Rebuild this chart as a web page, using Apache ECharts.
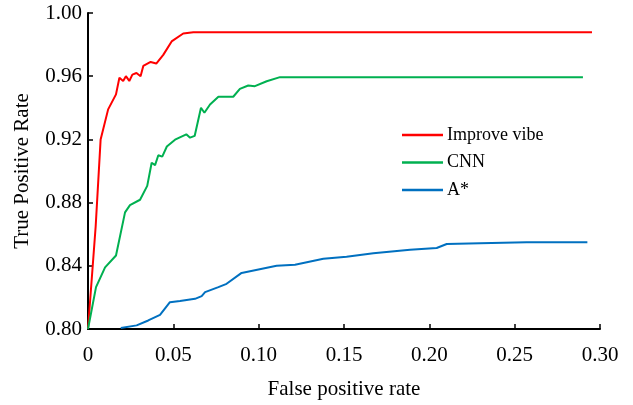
<!DOCTYPE html>
<html>
<head>
<meta charset="utf-8">
<script src="https://cdn.jsdelivr.net/npm/echarts@6/dist/echarts.min.js"></script>
<style>html,body{margin:0;padding:0;background:#fff;}#c{width:633px;height:405px;}</style>
</head>
<body>
<div id="c"></div>
<script>
const seriesNames = ['Improve vibe', 'CNN', 'A*'];
const improveVibe = [
  [0, 0.80], [0.0045, 0.865], [0.0074, 0.920], [0.0118, 0.939], [0.0164, 0.9485],
  [0.0184, 0.959], [0.0206, 0.957], [0.0222, 0.960], [0.0242, 0.957], [0.0260, 0.961],
  [0.0284, 0.962], [0.0308, 0.960], [0.0324, 0.9665], [0.0367, 0.969], [0.0400, 0.968],
  [0.0441, 0.9735], [0.0490, 0.982], [0.0558, 0.987], [0.0617, 0.9878], [0.2953, 0.9878]
];
const cnn = [
  [0, 0.80], [0.0047, 0.8265], [0.0100, 0.839], [0.0164, 0.8465], [0.0217, 0.8738],
  [0.0246, 0.8784], [0.0305, 0.8818], [0.0347, 0.8906], [0.0373, 0.9052], [0.0393, 0.9037],
  [0.0412, 0.910], [0.0435, 0.9091], [0.0462, 0.9155], [0.0510, 0.9198], [0.0576, 0.9232],
  [0.0598, 0.9211], [0.0625, 0.9222], [0.0662, 0.940], [0.0682, 0.9369], [0.0715, 0.9421],
  [0.0764, 0.947], [0.0851, 0.947], [0.0890, 0.952], [0.0939, 0.9541], [0.0978, 0.9537],
  [0.1047, 0.9568], [0.1125, 0.9594], [0.2900, 0.9594]
];
const aStar = [
  [0.0192, 0.8006], [0.0285, 0.8023], [0.0353, 0.8054], [0.0422, 0.809], [0.0480, 0.817],
  [0.0539, 0.8177], [0.0627, 0.8191], [0.0666, 0.8208], [0.0686, 0.8233], [0.0764, 0.8265],
  [0.0812, 0.8286], [0.0900, 0.8355], [0.1105, 0.8400], [0.1213, 0.8406], [0.1379, 0.8444],
  [0.1515, 0.8458], [0.1672, 0.848], [0.1887, 0.8502], [0.2043, 0.8513], [0.2102, 0.8538],
  [0.2297, 0.8543], [0.2570, 0.8549], [0.2926, 0.8549]
];
const colors = ['#ff0000', '#00b050', '#0070c0'];
const font = '"Liberation Serif", "Times New Roman", serif';

const chart = echarts.init(document.getElementById('c'), null, {renderer: 'canvas'});
const mk = (name, data, color) => ({
  name, type: 'line', data, showSymbol: false, symbol: 'none',
  lineStyle: {color, width: 2}, itemStyle: {color}, animation: false
});
chart.setOption({
  animation: false,
  backgroundColor: '#fff',
  grid: {left: 88, right: 33, top: 13, bottom: 74},
  legend: {
    orient: 'vertical', left: 397, top: 120, icon: 'rect',
    itemWidth: 41, itemHeight: 2.5, itemGap: 7.5,
    data: seriesNames,
    textStyle: {fontFamily: font, fontSize: 18, color: '#000', lineHeight: 20, padding: [0, 0, 0, -1]}
  },
  xAxis: {
    type: 'value', min: 0, max: 0.30, interval: 0.05,
    name: 'False positive rate', nameLocation: 'middle', nameGap: 50,
    nameTextStyle: {fontFamily: font, fontSize: 21, color: '#000'},
    axisLine: {show: true, lineStyle: {color: '#000', width: 2}},
    axisTick: {show: true, inside: true, length: 5, lineStyle: {color: '#000', width: 1.5}},
    axisLabel: {fontFamily: font, fontSize: 21, color: '#000', margin: 16,
      formatter: v => v === 0 ? '0' : v.toFixed(2)},
    splitLine: {show: false}
  },
  yAxis: {
    type: 'value', min: 0.80, max: 1.00, interval: 0.04,
    name: 'True Positive Rate', nameLocation: 'middle', nameGap: 55,
    nameTextStyle: {fontFamily: font, fontSize: 21, color: '#000'},
    axisLine: {show: true, lineStyle: {color: '#000', width: 2}},
    axisTick: {show: true, inside: true, length: 5, lineStyle: {color: '#000', width: 1.5}},
    axisLabel: {fontFamily: font, fontSize: 21, color: '#000', margin: 6,
      formatter: v => v.toFixed(2)},
    splitLine: {show: false}
  },
  series: [
    mk(seriesNames[0], improveVibe, colors[0]),
    mk(seriesNames[1], cnn, colors[1]),
    mk(seriesNames[2], aStar, colors[2])
  ]
});
</script>
</body>
</html>
